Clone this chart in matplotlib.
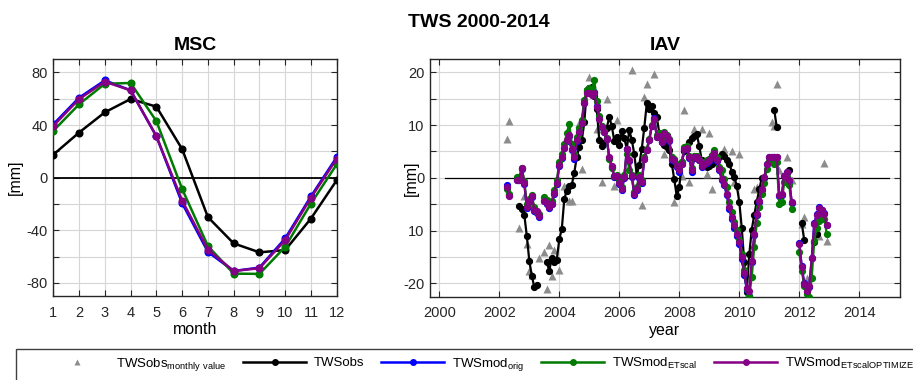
import matplotlib
matplotlib.use('Agg')
import matplotlib.pyplot as plt
import numpy as np
from matplotlib.lines import Line2D
from matplotlib.patches import Rectangle

plt.rcParams.update({
    'font.family': ['Liberation Sans', 'DejaVu Sans'],
    'font.size': 10,
    'axes.unicode_minus': False,
    'axes.edgecolor': '#262626',
    'axes.linewidth': 1.0,
    'xtick.color': '#262626',
    'ytick.color': '#262626',
    'xtick.direction': 'in',
    'ytick.direction': 'in',
    'xtick.top': True,
    'ytick.right': True,
    'xtick.labelsize': 10.5,
    'ytick.labelsize': 10.5,
    'mathtext.fontset': 'custom',
    'mathtext.rm': 'Liberation Sans',
})

nan = np.nan

# ---- MSC (mean seasonal cycle) ----
months = list(range(1, 13))
msc_obs = [17.5, 34.3, 49.7, 59.8, 54.0, 21.7, -30.0, -50.0, -56.8, -55.1, -31.1, -2.0]
msc_orig = [40.6, 60.8, 74.0, 66.4, 31.5, -19.4, -56.5, -71.0, -68.4, -46.2, -14.2, 15.6]
msc_etscal = [35.6, 55.8, 71.4, 72.0, 43.0, -8.6, -52.0, -73.0, -73.2, -52.6, -19.7, 10.1]
msc_opt = [39.4, 59.8, 73.0, 66.4, 31.5, -17.4, -54.8, -71.0, -68.9, -47.5, -15.2, 14.3]

# ---- IAV: monthly values Jan 2002 .. Dec 2012 (NaN = no data) ----
iav_years = list(range(2002, 2013))

iav_obs = [
    nan, nan, nan, nan, nan, nan, nan, nan, -5.3, -5.9, -7.0, -11.0,          # 2002
    -15.7, -18.5, -20.7, -20.3, nan, nan, nan, -16.0, -17.6, -15.1, -16.0, -15.5,  # 2003
    -11.6, -9.7, -4.0, -2.4, -1.5, -1.3, 1.0, 4.0, 5.8, 7.1, 10.5, 16.7,      # 2004
    17.0, 17.2, 15.5, 13.0, 7.1, 6.1, 6.6, 9.5, 11.5, 9.8, 7.0, 7.8,          # 2005
    6.2, 8.8, 7.5, 5.5, 9.0, 7.2, 4.5, 0.5, 2.5, 5.5, 9.5, 14.1,              # 2006
    13.0, 13.6, 12.3, 11.5, 8.5, 6.8, 6.2, 5.8, 5.3, 2.7, -0.3, -3.5,         # 2007
    -1.8, 3.0, 5.0, 5.5, 6.8, 7.5, 8.0, 8.3, 6.0, 3.3, 2.7, 2.0,              # 2008
    2.3, 2.7, 3.0, 3.3, 3.9, 4.6, 4.2, 3.3, 2.7, 1.2, 0.2, -1.5,              # 2009
    -4.5, -9.5, -16.0, -21.6, -14.5, -9.8, -7.0, -4.5, -2.2, 0.0, nan, nan,   # 2010
    nan, nan, 12.8, 9.6, nan, nan, nan, 0.9, 1.5, nan, nan, nan,              # 2011
    nan, -8.6, -11.8, nan, nan, nan, -12.2, -10.6, nan, nan, nan, nan,        # 2012
]

iav_orig = [
    nan, nan, nan, -1.4, -3.3, nan, nan, -0.5, -0.5, 1.7, -1.1, -5.7,
    -4.5, -3.6, -6.3, -6.6, -7.5, nan, -4.4, -5.0, -5.8, -5.0, -3.0, -1.1,
    2.3, 3.8, 5.6, 7.0, 8.0, 5.3, 3.6, 7.0, 8.7, 10.4, 14.2, 16.2,
    16.2, 15.8, 16.3, 13.6, 11.3, 9.6, 8.6, 7.3, 3.7, 2.0, 0.2, 0.1,
    -1.2, -2.3, -0.1, 5.4, 3.2, 0.2, -3.3, -2.3, -0.1, -1.0, 3.5, 5.2,
    7.1, 9.9, 11.3, 7.8, 8.0, 6.7, 8.3, 7.9, 7.0, 3.4, 3.1, 2.1,
    1.2, 2.6, 5.4, 5.6, 3.7, 1.2, 3.8, 3.8, 3.3, 2.0, 2.6, 2.9,
    3.2, 4.0, 4.6, 3.1, 1.5, -0.5, -1.4, -3.3, -5.9, -7.8, -9.4, -11.0,
    -12.6, -15.4, -18.4, -21.2, -22.3, -16.0, -10.9, -7.0, -4.5, -2.3, -0.1, 2.6,
    3.9, 4.0, 4.0, 3.9, -3.4, -3.2, 0.3, 1.1, -0.6, -4.7, nan, nan,
    -12.4, -16.7, -20.0, -21.5, -20.6, -15.2, -8.6, -6.9, -5.6, -6.0, -6.7, -9.0,
]

iav_etscal = [
    nan, nan, nan, -2.1, -3.0, nan, nan, 0.1, 0.1, 1.9, -0.6, -5.0,
    -4.0, -3.3, -5.6, -6.5, -6.8, nan, -3.6, -4.2, -5.2, -4.4, -2.3, -0.5,
    3.0, 4.5, 6.4, 8.5, 10.2, 6.5, 4.6, 7.8, 9.5, 11.0, 14.8, 16.6,
    17.0, 16.6, 18.5, 14.5, 11.8, 9.9, 8.9, 7.6, 3.5, 1.8, 0.4, 0.6,
    -0.6, -1.8, 0.6, 4.5, 1.4, 0.6, -2.6, -1.7, 0.5, -0.4, 3.9, 5.5,
    7.4, 10.0, 11.0, 8.2, 8.5, 7.2, 8.6, 8.2, 7.3, 3.9, 3.6, 2.7,
    1.8, 3.0, 5.8, 6.0, 4.2, 1.8, 4.2, 4.2, 3.6, 2.5, 3.0, 3.3,
    3.6, 4.4, 5.2, 4.0, 2.0, 1.4, -0.3, -1.8, -4.6, -6.4, -8.4, -9.8,
    -11.8, -14.4, -17.5, -21.0, -22.3, -18.8, -13.0, -8.6, -5.5, -3.0, -1.0, 1.6,
    3.2, 3.0, 2.6, 3.0, -5.0, -4.6, -0.8, 0.2, -1.3, -5.9, nan, nan,
    -14.1, -17.6, -20.4, -22.0, -22.5, -18.9, -12.0, -9.4, -8.1, -7.5, -7.8, -10.6,
]

iav_opt = [
    nan, nan, nan, -1.7, -3.4, nan, nan, -0.4, -0.4, 1.8, -1.0, -5.5,
    -4.3, -3.5, -6.0, -6.2, -7.2, nan, -4.3, -4.8, -5.6, -4.9, -2.9, -1.0,
    2.4, 3.9, 5.7, 7.1, 8.1, 5.5, 3.9, 7.1, 8.7, 10.3, 14.1, 16.0,
    16.0, 15.6, 16.0, 13.4, 11.2, 9.6, 8.7, 7.4, 3.9, 2.2, 0.4, 0.3,
    -1.0, -2.1, 0.1, 5.5, 3.3, 0.4, -3.0, -2.1, 0.1, -0.8, 3.6, 5.2,
    7.1, 9.9, 11.2, 7.7, 8.0, 6.8, 8.4, 8.0, 7.1, 3.6, 3.3, 2.3,
    1.4, 2.7, 5.5, 5.7, 3.9, 1.4, 3.9, 3.9, 3.4, 2.2, 2.7, 3.0,
    3.3, 4.1, 4.7, 3.3, 1.7, -0.2, -1.1, -3.0, -5.5, -7.4, -9.0, -10.6,
    -12.2, -15.0, -18.0, -20.8, -21.4, -15.7, -10.6, -6.8, -4.3, -2.1, 0.1, 2.7,
    3.9, 3.9, 3.9, 3.9, -3.2, -3.0, 0.4, 1.1, -0.5, -4.6, nan, nan,
    -12.5, -16.9, -20.1, -21.4, -20.5, -15.1, -8.7, -7.1, -5.8, -6.1, -6.8, -9.0,
]

# monthly TWSobs values (grey triangles), decimal year / mm
obs_t = [2002.25, 2002.33, 2002.67, 2002.83, 2002.92, 2003.0, 2003.08, 2003.33, 2003.5, 2003.58,
         2003.67, 2003.75, 2003.83, 2004.0, 2004.17, 2004.33, 2004.42, 2004.58, 2004.67, 2004.75,
         2005.0, 2005.25, 2005.42, 2005.58, 2005.83, 2005.92, 2006.42, 2006.75, 2006.83, 2006.92,
         2007.17, 2007.5, 2007.83, 2008.08, 2008.17, 2008.33, 2008.5, 2008.75, 2008.92, 2009.0,
         2009.08, 2009.5, 2009.75, 2009.83, 2010.0, 2010.5, 2010.58, 2011.08, 2011.17, 2011.25,
         2011.33, 2011.58, 2011.75, 2012.08, 2012.17, 2012.25, 2012.67, 2012.83, 2012.92]
obs_v = [7.4, 10.8, -9.4, -3.4, -12.5, -17.6, -18.3, -15.2, -14.1, -21.0,
         -12.7, -18.5, -13.7, -17.5, -1.5, -4.4, -4.3, 4.6, 10.4, 1.7,
         19.1, 9.2, -0.8, 15.0, -1.5, 10.9, 20.4, -5.1, 15.3, 17.7,
         19.7, 4.6, -4.6, 0.4, 12.8, -0.8, 9.3, 9.3, 0.8, 8.5,
         -2.1, 5.5, 5.0, -0.8, 4.6, -2.1, -1.8, 10.6, 9.9, 17.7,
         1.4, 3.9, -0.5, -8.7, -7.5, -18.9, -11.1, 2.8, -11.9]

C_OBS = 'black'
C_ORIG = '#0000ff'
C_ETSCAL = '#007a00'
C_OPT = '#850085'
C_TRI = '#8c8c8c'
GRID = '#d6d6d6'


def style_axes(ax):
    ax.grid(True, color=GRID, lw=0.8)
    ax.set_axisbelow(True)
    ax.tick_params(length=4, width=0.8, pad=4)
    ax.tick_params(axis='x', pad=7)


fig = plt.figure(figsize=(9.13, 3.80), dpi=100)

# ---------------- MSC ----------------
ax1 = fig.add_axes([0.0584, 0.2211, 0.3104, 0.6228])
style_axes(ax1)
ax1.axhline(0, color='k', lw=1.3, zorder=1.5)
ax1.plot(months, msc_obs, '-o', color=C_OBS, lw=1.8, ms=4.8, zorder=3)
ax1.plot(months, msc_orig, '-o', color=C_ORIG, lw=1.8, ms=4.8, zorder=3)
ax1.plot(months, msc_etscal, '-o', color=C_ETSCAL, lw=1.8, ms=4.8, zorder=3)
ax1.plot(months, msc_opt, '-o', color=C_OPT, lw=1.8, ms=4.8, zorder=3)
ax1.set_xlim(1, 12)
ax1.set_ylim(-90, 90)
ax1.set_xticks(months)
yt = np.arange(-80, 81, 20)
ax1.set_yticks(yt)
ax1.set_yticklabels([str(v) if v % 40 == 0 else '' for v in yt])
ax1.set_xlabel('month', fontsize=11.5, labelpad=2)
ax1.set_ylabel('[mm]', fontsize=11.5)
ax1.yaxis.set_label_coords(-0.107, 0.5)
ax1.set_title('MSC', fontsize=14, fontweight='bold', pad=7)

# ---------------- IAV ----------------
t = np.array([y + m / 12 for y in iav_years for m in range(12)])

ax2 = fig.add_axes([0.471, 0.2192, 0.5148, 0.6255])
style_axes(ax2)
ax2.plot([2000.2, 2015.0], [0, 0], color='k', lw=0.9, zorder=1.5)
ax2.plot(obs_t, obs_v, '^', color=C_TRI, ms=5.5, mec='none', zorder=2)
ax2.plot(t, iav_obs, '-o', color=C_OBS, lw=1.6, ms=4.2, zorder=3)
ax2.plot(t, iav_orig, '-o', color=C_ORIG, lw=1.6, ms=4.2, zorder=3)
ax2.plot(t, iav_etscal, '-o', color=C_ETSCAL, lw=1.6, ms=4.2, zorder=3)
ax2.plot(t, iav_opt, '-o', color=C_OPT, lw=1.6, ms=4.2, zorder=3)
ax2.set_xlim(1999.69, 2015.36)
ax2.set_ylim(-22.5, 22.5)
ax2.set_xticks(range(2000, 2015, 2))
yt2 = np.arange(-20, 21, 5)
ax2.set_yticks(yt2)
ax2.set_yticklabels(['-20', '', '10', '', '0', '', '10', '', '20'])
ax2.set_xlabel('year', fontsize=11.5, labelpad=2)
ax2.set_ylabel('[mm]', fontsize=11.5)
ax2.yaxis.set_label_coords(-0.023, 0.5)
ax2.set_title('IAV', fontsize=14, fontweight='bold', pad=6.5)

fig.text(0.524, 0.929, 'TWS 2000-2014', fontsize=14, fontweight='bold',
         ha='center', va='baseline')

# ---------------- legend ----------------
handles = [
    Line2D([], [], marker='^', color=C_TRI, ls='none', ms=4, mec='none'),
    Line2D([], [], marker='o', color=C_OBS, lw=1.8, ms=4),
    Line2D([], [], marker='o', color=C_ORIG, lw=1.8, ms=4),
    Line2D([], [], marker='o', color=C_ETSCAL, lw=1.8, ms=4),
    Line2D([], [], marker='o', color=C_OPT, lw=1.8, ms=4),
]
labels = [
    r'TWSobs$_{\rm monthly\ value}$',
    'TWSobs',
    r'TWSmod$_{\rm orig}$',
    r'TWSmod$_{\rm ETscal}$',
    r'TWSmod$_{\rm ETscalOPTIMIZED}$',
]
fig.legend(handles, labels, loc='center left', bbox_to_anchor=(45 / 913, 1 - 364 / 380),
           ncol=5, frameon=False, fontsize=9.5, handlelength=4.8, handletextpad=0.6,
           columnspacing=1.25, borderpad=0, borderaxespad=0)
fig.patches.append(Rectangle((16 / 913, -0.1), 1.2, 0.1 + (1 - 349 / 380),
                             transform=fig.transFigure, fill=False,
                             edgecolor='#404040', lw=1.0, clip_on=False))

fig.savefig('out.png', dpi=100)
